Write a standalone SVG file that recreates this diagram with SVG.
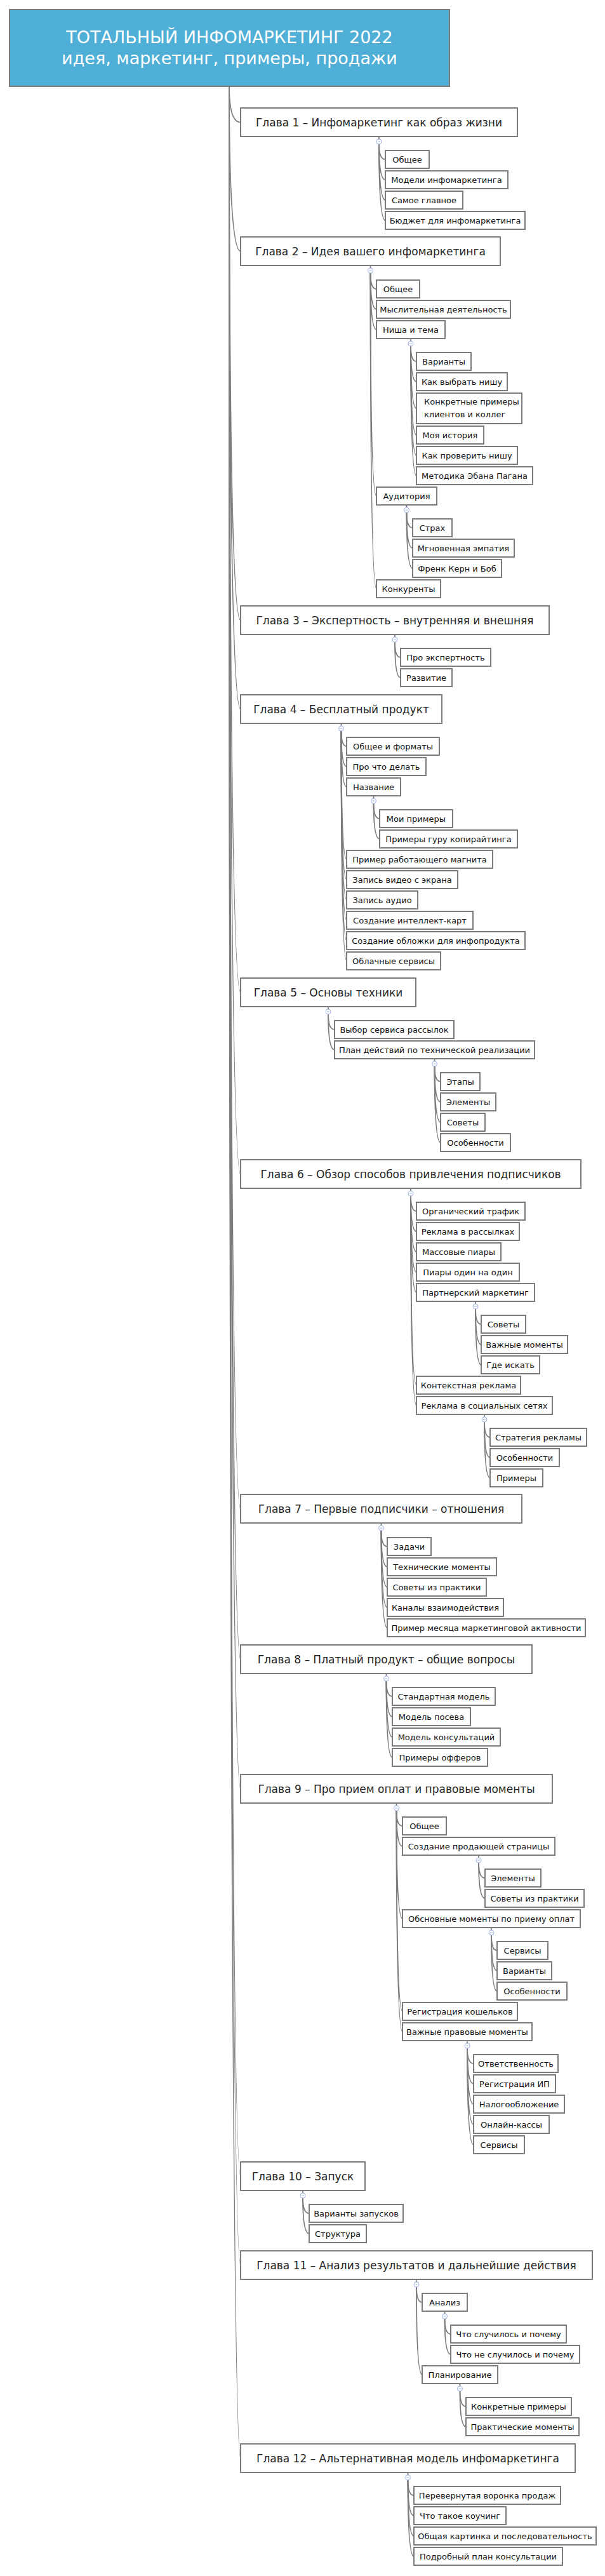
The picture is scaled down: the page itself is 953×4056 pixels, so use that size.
<svg xmlns="http://www.w3.org/2000/svg" width="953" height="4056" viewBox="0 0 953 4056">
<style>
rect.b{fill:#fff;stroke:#7c7c7c;stroke-width:2}
rect.t{fill:#50afd6;stroke:#7c7c7c;stroke-width:2}
text{font-family:"DejaVu Sans","Liberation Sans",sans-serif}
.tt{font-size:27px;fill:#fff;text-anchor:middle}
.ct{font-size:17px;fill:#262626;text-anchor:middle}
.nt{font-size:13px;fill:#111;text-anchor:middle}
.nl{font-size:13px;fill:#111}
#conn path{fill:none;stroke:#7c7c7c;stroke-width:1.8}
.tg circle{fill:#fff;stroke:#9fb4e6;stroke-width:1}
.tg path{stroke:#9fb4e6;stroke-width:1}
</style>
<rect width="953" height="4056" fill="#fff"/>
<g id="conn">
<path d="M361,136 Q361,192.5 379,192.5"/>
<path d="M361,136 Q361,395.5 379,395.5"/>
<path d="M361,136 Q361,976.5 379,976.5"/>
<path d="M361,136 Q361,1116.5 379,1116.5"/>
<path d="M361,136 Q361,1562.5 379,1562.5"/>
<path d="M361,136 Q361,1848.5 379,1848.5"/>
<path d="M361,136 Q361,2375.5 379,2375.5"/>
<path d="M361,136 Q361,2612.5 379,2612.5"/>
<path d="M361,136 Q361,2816.5 379,2816.5"/>
<path d="M361,136 Q361,3426.5 379,3426.5"/>
<path d="M361,136 Q361,3566.5 379,3566.5"/>
<path d="M361,136 Q361,3870.5 379,3870.5"/>
<path d="M597,215 V219"/>
<path d="M597,227 Q597,251 607,251"/>
<path d="M597,227 Q597,283 607,283"/>
<path d="M597,227 Q597,315 607,315"/>
<path d="M597,227 Q597,347 607,347"/>
<path d="M583.5,418 V422"/>
<path d="M583.5,430 Q583.5,455 593,455"/>
<path d="M583.5,430 Q583.5,487 593,487"/>
<path d="M583.5,430 Q583.5,519 593,519"/>
<path d="M583.5,430 Q583.5,781 593,781"/>
<path d="M583.5,430 Q583.5,927 593,927"/>
<path d="M647,533 V537"/>
<path d="M647,545 Q647,569 656,569"/>
<path d="M647,545 Q647,601 656,601"/>
<path d="M647,545 Q647,643 656,643"/>
<path d="M647,545 Q647,685 656,685"/>
<path d="M647,545 Q647,717 656,717"/>
<path d="M647,545 Q647,749 656,749"/>
<path d="M640.5,795 V799"/>
<path d="M640.5,807 Q640.5,831 650,831"/>
<path d="M640.5,807 Q640.5,863 650,863"/>
<path d="M640.5,807 Q640.5,895 650,895"/>
<path d="M622,999 V1003"/>
<path d="M622,1011 Q622,1035 631,1035"/>
<path d="M622,1011 Q622,1067 631,1067"/>
<path d="M537.5,1139 V1143"/>
<path d="M537.5,1151 Q537.5,1175 546,1175"/>
<path d="M537.5,1151 Q537.5,1207 546,1207"/>
<path d="M537.5,1151 Q537.5,1239 546,1239"/>
<path d="M537.5,1151 Q537.5,1353 546,1353"/>
<path d="M537.5,1151 Q537.5,1385 546,1385"/>
<path d="M537.5,1151 Q537.5,1417 546,1417"/>
<path d="M537.5,1151 Q537.5,1449 546,1449"/>
<path d="M537.5,1151 Q537.5,1481 546,1481"/>
<path d="M537.5,1151 Q537.5,1513 546,1513"/>
<path d="M588.5,1253 V1257"/>
<path d="M588.5,1265 Q588.5,1289 598,1289"/>
<path d="M588.5,1265 Q588.5,1321 598,1321"/>
<path d="M517,1585 V1589"/>
<path d="M517,1597 Q517,1621 527,1621"/>
<path d="M517,1597 Q517,1653 527,1653"/>
<path d="M684.5,1667 V1671"/>
<path d="M684.5,1679 Q684.5,1703 694,1703"/>
<path d="M684.5,1679 Q684.5,1735 694,1735"/>
<path d="M684.5,1679 Q684.5,1767 694,1767"/>
<path d="M684.5,1679 Q684.5,1799 694,1799"/>
<path d="M647,1871 V1875"/>
<path d="M647,1883 Q647,1907 656,1907"/>
<path d="M647,1883 Q647,1939 656,1939"/>
<path d="M647,1883 Q647,1971 656,1971"/>
<path d="M647,1883 Q647,2003 656,2003"/>
<path d="M647,1883 Q647,2035 656,2035"/>
<path d="M647,1883 Q647,2181 656,2181"/>
<path d="M647,1883 Q647,2213 656,2213"/>
<path d="M749,2049 V2053"/>
<path d="M749,2061 Q749,2085 758,2085"/>
<path d="M749,2061 Q749,2117 758,2117"/>
<path d="M749,2061 Q749,2149 758,2149"/>
<path d="M763,2227 V2231"/>
<path d="M763,2239 Q763,2263 772,2263"/>
<path d="M763,2239 Q763,2295 772,2295"/>
<path d="M763,2239 Q763,2327 772,2327"/>
<path d="M600.5,2398 V2402"/>
<path d="M600.5,2410 Q600.5,2435 610,2435"/>
<path d="M600.5,2410 Q600.5,2467 610,2467"/>
<path d="M600.5,2410 Q600.5,2499 610,2499"/>
<path d="M600.5,2410 Q600.5,2531 610,2531"/>
<path d="M600.5,2410 Q600.5,2563 610,2563"/>
<path d="M608.5,2635 V2639"/>
<path d="M608.5,2647 Q608.5,2671 618,2671"/>
<path d="M608.5,2647 Q608.5,2703 618,2703"/>
<path d="M608.5,2647 Q608.5,2735 618,2735"/>
<path d="M608.5,2647 Q608.5,2767 618,2767"/>
<path d="M624.5,2839 V2843"/>
<path d="M624.5,2851 Q624.5,2875 634,2875"/>
<path d="M624.5,2851 Q624.5,2907 634,2907"/>
<path d="M624.5,2851 Q624.5,3021 634,3021"/>
<path d="M624.5,2851 Q624.5,3167 634,3167"/>
<path d="M624.5,2851 Q624.5,3199 634,3199"/>
<path d="M754,2921 V2925"/>
<path d="M754,2933 Q754,2957 764,2957"/>
<path d="M754,2933 Q754,2989 764,2989"/>
<path d="M774,3035 V3039"/>
<path d="M774,3047 Q774,3071 783,3071"/>
<path d="M774,3047 Q774,3103 783,3103"/>
<path d="M774,3047 Q774,3135 783,3135"/>
<path d="M736,3213 V3217"/>
<path d="M736,3225 Q736,3249 746,3249"/>
<path d="M736,3225 Q736,3281 746,3281"/>
<path d="M736,3225 Q736,3313 746,3313"/>
<path d="M736,3225 Q736,3345 746,3345"/>
<path d="M736,3225 Q736,3377 746,3377"/>
<path d="M477,3449 V3453"/>
<path d="M477,3461 Q477,3485 487,3485"/>
<path d="M477,3461 Q477,3517 487,3517"/>
<path d="M656,3589 V3593"/>
<path d="M656,3601 Q656,3625 665,3625"/>
<path d="M656,3601 Q656,3739 665,3739"/>
<path d="M700.5,3639 V3643"/>
<path d="M700.5,3651 Q700.5,3675 710,3675"/>
<path d="M700.5,3651 Q700.5,3707 710,3707"/>
<path d="M724.5,3753 V3757"/>
<path d="M724.5,3765 Q724.5,3789 734,3789"/>
<path d="M724.5,3765 Q724.5,3821 734,3821"/>
<path d="M642.5,3893 V3897"/>
<path d="M642.5,3905 Q642.5,3929 652,3929"/>
<path d="M642.5,3905 Q642.5,3961 652,3961"/>
<path d="M642.5,3905 Q642.5,3993 652,3993"/>
<path d="M642.5,3905 Q642.5,4025 652,4025"/>
</g>
<g id="toggles" class="tg">
<g><circle cx="597" cy="223" r="4"/><path d="M595,223 H599"/></g>
<g><circle cx="583.5" cy="426" r="4"/><path d="M581.5,426 H585.5"/></g>
<g><circle cx="647" cy="541" r="4"/><path d="M645,541 H649"/></g>
<g><circle cx="640.5" cy="803" r="4"/><path d="M638.5,803 H642.5"/></g>
<g><circle cx="622" cy="1007" r="4"/><path d="M620,1007 H624"/></g>
<g><circle cx="537.5" cy="1147" r="4"/><path d="M535.5,1147 H539.5"/></g>
<g><circle cx="588.5" cy="1261" r="4"/><path d="M586.5,1261 H590.5"/></g>
<g><circle cx="517" cy="1593" r="4"/><path d="M515,1593 H519"/></g>
<g><circle cx="684.5" cy="1675" r="4"/><path d="M682.5,1675 H686.5"/></g>
<g><circle cx="647" cy="1879" r="4"/><path d="M645,1879 H649"/></g>
<g><circle cx="749" cy="2057" r="4"/><path d="M747,2057 H751"/></g>
<g><circle cx="763" cy="2235" r="4"/><path d="M761,2235 H765"/></g>
<g><circle cx="600.5" cy="2406" r="4"/><path d="M598.5,2406 H602.5"/></g>
<g><circle cx="608.5" cy="2643" r="4"/><path d="M606.5,2643 H610.5"/></g>
<g><circle cx="624.5" cy="2847" r="4"/><path d="M622.5,2847 H626.5"/></g>
<g><circle cx="754" cy="2929" r="4"/><path d="M752,2929 H756"/></g>
<g><circle cx="774" cy="3043" r="4"/><path d="M772,3043 H776"/></g>
<g><circle cx="736" cy="3221" r="4"/><path d="M734,3221 H738"/></g>
<g><circle cx="477" cy="3457" r="4"/><path d="M475,3457 H479"/></g>
<g><circle cx="656" cy="3597" r="4"/><path d="M654,3597 H658"/></g>
<g><circle cx="700.5" cy="3647" r="4"/><path d="M698.5,3647 H702.5"/></g>
<g><circle cx="724.5" cy="3761" r="4"/><path d="M722.5,3761 H726.5"/></g>
<g><circle cx="642.5" cy="3901" r="4"/><path d="M640.5,3901 H644.5"/></g>
</g>
<g id="root"><rect class="t" x="15" y="15" width="693" height="121"/><text class="tt" x="361.5" y="68">ТОТАЛЬНЫЙ ИНФОМАРКЕТИНГ 2022</text><text class="tt" x="361.5" y="101">идея, маркетинг, примеры, продажи</text></g>
<g id="ch1"><rect class="b" x="379" y="170" width="436" height="45"/><text class="ct" x="597" y="198.5">Глава 1 – Инфомаркетинг как образ жизни</text></g>
<g id="ch1-1"><rect class="b" x="607" y="237" width="69" height="28"/><text class="nt" x="641.5" y="256">Общее</text></g>
<g id="ch1-2"><rect class="b" x="607" y="269" width="193" height="28"/><text class="nt" x="703.5" y="288">Модели инфомаркетинга</text></g>
<g id="ch1-3"><rect class="b" x="607" y="301" width="122" height="28"/><text class="nt" x="668" y="320">Самое главное</text></g>
<g id="ch1-4"><rect class="b" x="607" y="333" width="220" height="28"/><text class="nt" x="717" y="352">Бюджет для инфомаркетинга</text></g>
<g id="ch2"><rect class="b" x="379" y="373" width="409" height="45"/><text class="ct" x="583.5" y="401.5">Глава 2 – Идея вашего инфомаркетинга</text></g>
<g id="ch2-1"><rect class="b" x="593" y="441" width="68" height="28"/><text class="nt" x="627" y="460">Общее</text></g>
<g id="ch2-2"><rect class="b" x="593" y="473" width="211" height="28"/><text class="nt" x="698.5" y="492">Мыслительная деятельность</text></g>
<g id="ch2-3"><rect class="b" x="593" y="505" width="108" height="28"/><text class="nt" x="647" y="524">Ниша и тема</text></g>
<g id="ch2-3-1"><rect class="b" x="656" y="555" width="86" height="28"/><text class="nt" x="699" y="574">Варианты</text></g>
<g id="ch2-3-2"><rect class="b" x="656" y="587" width="143" height="28"/><text class="nt" x="727.5" y="606">Как выбрать нишу</text></g>
<g id="ch2-3-3"><rect class="b" x="656" y="619" width="166" height="48"/><text class="nl" x="668" y="637">Конкретные примеры</text><text class="nl" x="668" y="657">клиентов и коллег</text></g>
<g id="ch2-3-4"><rect class="b" x="656" y="671" width="106" height="28"/><text class="nt" x="709" y="690">Моя история</text></g>
<g id="ch2-3-5"><rect class="b" x="656" y="703" width="159" height="28"/><text class="nt" x="735.5" y="722">Как проверить нишу</text></g>
<g id="ch2-3-6"><rect class="b" x="656" y="735" width="183" height="28"/><text class="nt" x="747.5" y="754">Методика Эбана Пагана</text></g>
<g id="ch2-4"><rect class="b" x="593" y="767" width="95" height="28"/><text class="nt" x="640.5" y="786">Аудитория</text></g>
<g id="ch2-4-1"><rect class="b" x="650" y="817" width="62" height="28"/><text class="nt" x="681" y="836">Страх</text></g>
<g id="ch2-4-2"><rect class="b" x="650" y="849" width="160" height="28"/><text class="nt" x="730" y="868">Мгновенная эмпатия</text></g>
<g id="ch2-4-3"><rect class="b" x="650" y="881" width="140" height="28"/><text class="nt" x="720" y="900">Френк Керн и Боб</text></g>
<g id="ch2-5"><rect class="b" x="593" y="913" width="101" height="28"/><text class="nt" x="643.5" y="932">Конкуренты</text></g>
<g id="ch3"><rect class="b" x="379" y="954" width="486" height="45"/><text class="ct" x="622" y="982.5">Глава 3 – Экспертность – внутренняя и внешняя</text></g>
<g id="ch3-1"><rect class="b" x="631" y="1021" width="142" height="28"/><text class="nt" x="702" y="1040">Про экспертность</text></g>
<g id="ch3-2"><rect class="b" x="631" y="1053" width="81" height="28"/><text class="nt" x="671.5" y="1072">Развитие</text></g>
<g id="ch4"><rect class="b" x="379" y="1094" width="317" height="45"/><text class="ct" x="537.5" y="1122.5">Глава 4 – Бесплатный продукт</text></g>
<g id="ch4-1"><rect class="b" x="546" y="1161" width="146" height="28"/><text class="nt" x="619" y="1180">Общее и форматы</text></g>
<g id="ch4-2"><rect class="b" x="546" y="1193" width="125" height="28"/><text class="nt" x="608.5" y="1212">Про что делать</text></g>
<g id="ch4-3"><rect class="b" x="546" y="1225" width="85" height="28"/><text class="nt" x="588.5" y="1244">Название</text></g>
<g id="ch4-3-1"><rect class="b" x="598" y="1275" width="115" height="28"/><text class="nt" x="655.5" y="1294">Мои примеры</text></g>
<g id="ch4-3-2"><rect class="b" x="598" y="1307" width="217" height="28"/><text class="nt" x="706.5" y="1326">Примеры гуру копирайтинга</text></g>
<g id="ch4-4"><rect class="b" x="546" y="1339" width="230" height="28"/><text class="nt" x="661" y="1358">Пример работающего магнита</text></g>
<g id="ch4-5"><rect class="b" x="546" y="1371" width="175" height="28"/><text class="nt" x="633.5" y="1390">Запись видео с экрана</text></g>
<g id="ch4-6"><rect class="b" x="546" y="1403" width="112" height="28"/><text class="nt" x="602" y="1422">Запись аудио</text></g>
<g id="ch4-7"><rect class="b" x="546" y="1435" width="199" height="28"/><text class="nt" x="645.5" y="1454">Создание интеллект-карт</text></g>
<g id="ch4-8"><rect class="b" x="546" y="1467" width="281" height="28"/><text class="nt" x="686.5" y="1486">Создание обложки для инфопродукта</text></g>
<g id="ch4-9"><rect class="b" x="546" y="1499" width="148" height="28"/><text class="nt" x="620" y="1518">Облачные сервисы</text></g>
<g id="ch5"><rect class="b" x="379" y="1540" width="276" height="45"/><text class="ct" x="517" y="1568.5">Глава 5 – Основы техники</text></g>
<g id="ch5-1"><rect class="b" x="527" y="1607" width="188" height="28"/><text class="nt" x="621" y="1626">Выбор сервиса рассылок</text></g>
<g id="ch5-2"><rect class="b" x="527" y="1639" width="315" height="28"/><text class="nt" x="684.5" y="1658">План действий по технической реализации</text></g>
<g id="ch5-2-1"><rect class="b" x="694" y="1689" width="62" height="28"/><text class="nt" x="725" y="1708">Этапы</text></g>
<g id="ch5-2-2"><rect class="b" x="694" y="1721" width="87" height="28"/><text class="nt" x="737.5" y="1740">Элементы</text></g>
<g id="ch5-2-3"><rect class="b" x="694" y="1753" width="70" height="28"/><text class="nt" x="729" y="1772">Советы</text></g>
<g id="ch5-2-4"><rect class="b" x="694" y="1785" width="110" height="28"/><text class="nt" x="749" y="1804">Особенности</text></g>
<g id="ch6"><rect class="b" x="379" y="1826" width="536" height="45"/><text class="ct" x="647" y="1854.5">Глава 6 – Обзор способов привлечения подписчиков</text></g>
<g id="ch6-1"><rect class="b" x="656" y="1893" width="171" height="28"/><text class="nt" x="741.5" y="1912">Органический трафик</text></g>
<g id="ch6-2"><rect class="b" x="656" y="1925" width="162" height="28"/><text class="nt" x="737" y="1944">Реклама в рассылках</text></g>
<g id="ch6-3"><rect class="b" x="656" y="1957" width="133" height="28"/><text class="nt" x="722.5" y="1976">Массовые пиары</text></g>
<g id="ch6-4"><rect class="b" x="656" y="1989" width="162" height="28"/><text class="nt" x="737" y="2008">Пиары один на один</text></g>
<g id="ch6-5"><rect class="b" x="656" y="2021" width="186" height="28"/><text class="nt" x="749" y="2040">Партнерский маркетинг</text></g>
<g id="ch6-5-1"><rect class="b" x="758" y="2071" width="70" height="28"/><text class="nt" x="793" y="2090">Советы</text></g>
<g id="ch6-5-2"><rect class="b" x="758" y="2103" width="136" height="28"/><text class="nt" x="826" y="2122">Важные моменты</text></g>
<g id="ch6-5-3"><rect class="b" x="758" y="2135" width="92" height="28"/><text class="nt" x="804" y="2154">Где искать</text></g>
<g id="ch6-6"><rect class="b" x="656" y="2167" width="164" height="28"/><text class="nt" x="738" y="2186">Контекстная реклама</text></g>
<g id="ch6-7"><rect class="b" x="656" y="2199" width="214" height="28"/><text class="nt" x="763" y="2218">Реклама в социальных сетях</text></g>
<g id="ch6-7-1"><rect class="b" x="772" y="2249" width="152" height="28"/><text class="nt" x="848" y="2268">Стратегия рекламы</text></g>
<g id="ch6-7-2"><rect class="b" x="772" y="2281" width="109" height="28"/><text class="nt" x="826.5" y="2300">Особенности</text></g>
<g id="ch6-7-3"><rect class="b" x="772" y="2313" width="83" height="28"/><text class="nt" x="813.5" y="2332">Примеры</text></g>
<g id="ch7"><rect class="b" x="379" y="2353" width="443" height="45"/><text class="ct" x="600.5" y="2381.5">Глава 7 – Первые подписчики – отношения</text></g>
<g id="ch7-1"><rect class="b" x="610" y="2421" width="69" height="28"/><text class="nt" x="644.5" y="2440">Задачи</text></g>
<g id="ch7-2"><rect class="b" x="610" y="2453" width="172" height="28"/><text class="nt" x="696" y="2472">Технические моменты</text></g>
<g id="ch7-3"><rect class="b" x="610" y="2485" width="156" height="28"/><text class="nt" x="688" y="2504">Советы из практики</text></g>
<g id="ch7-4"><rect class="b" x="610" y="2517" width="183" height="28"/><text class="nt" x="701.5" y="2536">Каналы взаимодействия</text></g>
<g id="ch7-5"><rect class="b" x="610" y="2549" width="312" height="28"/><text class="nt" x="766" y="2568">Пример месяца маркетинговой активности</text></g>
<g id="ch8"><rect class="b" x="379" y="2590" width="459" height="45"/><text class="ct" x="608.5" y="2618.5">Глава 8 – Платный продукт – общие вопросы</text></g>
<g id="ch8-1"><rect class="b" x="618" y="2657" width="162" height="28"/><text class="nt" x="699" y="2676">Стандартная модель</text></g>
<g id="ch8-2"><rect class="b" x="618" y="2689" width="123" height="28"/><text class="nt" x="679.5" y="2708">Модель посева</text></g>
<g id="ch8-3"><rect class="b" x="618" y="2721" width="170" height="28"/><text class="nt" x="703" y="2740">Модель консультаций</text></g>
<g id="ch8-4"><rect class="b" x="618" y="2753" width="150" height="28"/><text class="nt" x="693" y="2772">Примеры офферов</text></g>
<g id="ch9"><rect class="b" x="379" y="2794" width="491" height="45"/><text class="ct" x="624.5" y="2822.5">Глава 9 – Про прием оплат и правовые моменты</text></g>
<g id="ch9-1"><rect class="b" x="634" y="2861" width="69" height="28"/><text class="nt" x="668.5" y="2880">Общее</text></g>
<g id="ch9-2"><rect class="b" x="634" y="2893" width="240" height="28"/><text class="nt" x="754" y="2912">Создание продающей страницы</text></g>
<g id="ch9-2-1"><rect class="b" x="764" y="2943" width="88" height="28"/><text class="nt" x="808" y="2962">Элементы</text></g>
<g id="ch9-2-2"><rect class="b" x="764" y="2975" width="156" height="28"/><text class="nt" x="842" y="2994">Советы из практики</text></g>
<g id="ch9-3"><rect class="b" x="634" y="3007" width="280" height="28"/><text class="nt" x="774" y="3026">Обсновные моменты по приему оплат</text></g>
<g id="ch9-3-1"><rect class="b" x="783" y="3057" width="80" height="28"/><text class="nt" x="823" y="3076">Сервисы</text></g>
<g id="ch9-3-2"><rect class="b" x="783" y="3089" width="86" height="28"/><text class="nt" x="826" y="3108">Варианты</text></g>
<g id="ch9-3-3"><rect class="b" x="783" y="3121" width="110" height="28"/><text class="nt" x="838" y="3140">Особенности</text></g>
<g id="ch9-4"><rect class="b" x="634" y="3153" width="181" height="28"/><text class="nt" x="724.5" y="3172">Регистрация кошельков</text></g>
<g id="ch9-5"><rect class="b" x="634" y="3185" width="204" height="28"/><text class="nt" x="736" y="3204">Важные правовые моменты</text></g>
<g id="ch9-5-1"><rect class="b" x="746" y="3235" width="133" height="28"/><text class="nt" x="812.5" y="3254">Ответственность</text></g>
<g id="ch9-5-2"><rect class="b" x="746" y="3267" width="129" height="28"/><text class="nt" x="810.5" y="3286">Регистрация ИП</text></g>
<g id="ch9-5-3"><rect class="b" x="746" y="3299" width="143" height="28"/><text class="nt" x="817.5" y="3318">Налогообложение</text></g>
<g id="ch9-5-4"><rect class="b" x="746" y="3331" width="119" height="28"/><text class="nt" x="805.5" y="3350">Онлайн-кассы</text></g>
<g id="ch9-5-5"><rect class="b" x="746" y="3363" width="80" height="28"/><text class="nt" x="786" y="3382">Сервисы</text></g>
<g id="ch10"><rect class="b" x="379" y="3404" width="196" height="45"/><text class="ct" x="477" y="3432.5">Глава 10 – Запуск</text></g>
<g id="ch10-1"><rect class="b" x="487" y="3471" width="148" height="28"/><text class="nt" x="561" y="3490">Варианты запусков</text></g>
<g id="ch10-2"><rect class="b" x="487" y="3503" width="90" height="28"/><text class="nt" x="532" y="3522">Структура</text></g>
<g id="ch11"><rect class="b" x="379" y="3544" width="554" height="45"/><text class="ct" x="656" y="3572.5">Глава 11 – Анализ результатов и дальнейшие действия</text></g>
<g id="ch11-1"><rect class="b" x="665" y="3611" width="71" height="28"/><text class="nt" x="700.5" y="3630">Анализ</text></g>
<g id="ch11-1-1"><rect class="b" x="710" y="3661" width="182" height="28"/><text class="nt" x="801" y="3680">Что случилось и почему</text></g>
<g id="ch11-1-2"><rect class="b" x="710" y="3693" width="203" height="28"/><text class="nt" x="811.5" y="3712">Что не случилось и почему</text></g>
<g id="ch11-2"><rect class="b" x="665" y="3725" width="119" height="28"/><text class="nt" x="724.5" y="3744">Планирование</text></g>
<g id="ch11-2-1"><rect class="b" x="734" y="3775" width="166" height="28"/><text class="nt" x="817" y="3794">Конкретные примеры</text></g>
<g id="ch11-2-2"><rect class="b" x="734" y="3807" width="178" height="28"/><text class="nt" x="823" y="3826">Практические моменты</text></g>
<g id="ch12"><rect class="b" x="379" y="3848" width="527" height="45"/><text class="ct" x="642.5" y="3876.5">Глава 12 – Альтернативная модель инфомаркетинга</text></g>
<g id="ch12-1"><rect class="b" x="652" y="3915" width="231" height="28"/><text class="nt" x="767.5" y="3934">Перевернутая воронка продаж</text></g>
<g id="ch12-2"><rect class="b" x="652" y="3947" width="145" height="28"/><text class="nt" x="724.5" y="3966">Что такое коучинг</text></g>
<g id="ch12-3"><rect class="b" x="652" y="3979" width="287" height="28"/><text class="nt" x="795.5" y="3998">Общая картинка и последовательность</text></g>
<g id="ch12-4"><rect class="b" x="652" y="4011" width="234" height="28"/><text class="nt" x="769" y="4030">Подробный план консультации</text></g>
</svg>
